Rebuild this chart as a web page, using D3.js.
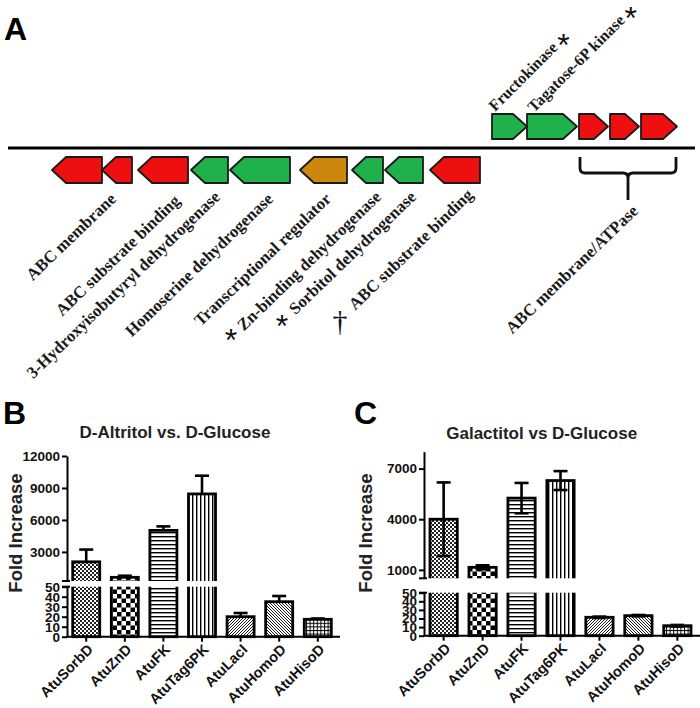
<!DOCTYPE html>
<html><head><meta charset="utf-8">
<script src="https://cdn.jsdelivr.net/npm/d3@7"></script>
<style>body{margin:0;background:#fff}svg{display:block}</style>
</head><body>
<svg id="c" width="700" height="708"></svg>
<script>
// ---------- Panel A data: gene map (positions in map units) ----------
const geneStart  = [52, 102, 138, 191, 230, 300, 352, 385, 430, 492, 527, 579, 610, 641];
const geneEnd    = [102, 132, 188, 228, 290, 347, 383, 423, 480, 527, 577, 608, 639, 677];
const geneStrand = [-1, -1, -1, -1, -1, -1, -1, -1, -1, 1, 1, 1, 1, 1];
const geneClass  = ["abc","abc","abc","dh","dh","reg","dh","dh","abc","kin","kin","abc","abc","abc"];
const bottomLabels = ["ABC membrane","ABC substrate binding","3-Hydroxyisobutyryl dehydrogenase",
  "Homoserine dehydrogenase","Transcriptional regulator","Zn-binding dehydrogenase",
  "Sorbitol dehydrogenase","ABC substrate binding","ABC membrane/ATPase"];
const bottomMarks = ["","","","","","*","*","\u2020",""];
const topLabels = ["Fructokinase","Tagatose-6P kinase"];

// ---------- Panels B & C data ----------
const categories = ["AtuSorbD","AtuZnD","AtuFK","AtuTag6PK","AtuLacI","AtuHomoD","AtuHisoD"];
const altritolMean = [2070, 615, 5020, 8440, 20, 35, 17.4];
const altritolErr  = [1150, 150, 375, 1710, 3.7, 5.7, 0.8];
const galactitolMean = [4000, 1150, 5250, 6290, 21.4, 23.3, 11.6];
const galactitolErr  = [2180, 120, 900, 560, 0.8, 0.8, 0.9];
const altritolTicks = [3000, 6000, 9000, 12000];
const galactitolTicks = [1000, 4000, 7000];
const lowerTicks = [0, 10, 20, 30, 40, 50];

const svg = d3.select("#c");
const SANS = "'Liberation Sans', Arial, sans-serif";
const SERIF = "'Liberation Serif', 'Times New Roman', serif";

// ---------- patterns ----------
const defs = svg.append("defs");
function pat(id, w, h, build) {
  const p = defs.append("pattern").attr("id", id).attr("patternUnits", "userSpaceOnUse")
    .attr("width", w).attr("height", h);
  p.append("rect").attr("width", w).attr("height", h).attr("fill", "#fff");
  build(p);
}
pat("p0", 4, 4, p => { p.append("rect").attr("width",2).attr("height",2).attr("fill","#222");
  p.append("rect").attr("x",2).attr("y",2).attr("width",2).attr("height",2).attr("fill","#222"); });
pat("p1", 9, 9, p => { p.append("rect").attr("width",4.5).attr("height",4.5).attr("fill","#000");
  p.append("rect").attr("x",4.5).attr("y",4.5).attr("width",4.5).attr("height",4.5).attr("fill","#000"); });
pat("p2", 4, 4, p => p.append("rect").attr("y",0).attr("width",4).attr("height",1.4).attr("fill","#000"));
pat("p3", 4, 4, p => p.append("rect").attr("x",0).attr("width",1.4).attr("height",4).attr("fill","#000"));
pat("p4", 3, 3, p => p.append("path").attr("d","M-1,1 L1,-1 M0,3 L3,0 M2,4 L4,2").attr("stroke","#000").attr("stroke-width",0.9));
pat("p5", 3, 3, p => p.append("path").attr("d","M-1,2 L1,4 M0,0 L3,3 M2,-1 L4,1").attr("stroke","#000").attr("stroke-width",0.9));
pat("p6", 3.6, 3.6, p => { p.append("rect").attr("width",3.6).attr("height",1).attr("fill","#000");
  p.append("rect").attr("width",1).attr("height",3.6).attr("fill","#000"); });

// ---------- Panel A ----------
const gx = d3.scaleLinear().domain([0, 700]).range([0, 700]);
const geneColor = d3.scaleOrdinal().domain(["abc","dh","reg","kin"]).range(["#ee1010","#20b24a","#cc880c","#20b24a"]);
svg.append("text").attr("x", 4).attr("y", 40).attr("font-family", SANS).attr("font-weight", "bold")
  .attr("font-size", 32).text("A");
svg.append("line").attr("x1", gx(8)).attr("x2", gx(695)).attr("y1", 148).attr("y2", 148)
  .attr("stroke", "#000").attr("stroke-width", 3);

const genes = geneStart.map((s, i) => ({ s, e: geneEnd[i], str: geneStrand[i], c: geneClass[i] }));
svg.append("g").selectAll("path").data(genes).join("path")
  .attr("d", d => {
    const x0 = gx(d.s), x1 = gx(d.e);
    const y0 = d.str > 0 ? 114 : 157, y1 = d.str > 0 ? 139 : 183, ym = (y0 + y1) / 2;
    const h = Math.min(14, (x1 - x0) * 0.5);
    return d.str > 0
      ? `M${x0},${y0}L${x1 - h},${y0}L${x1},${ym}L${x1 - h},${y1}L${x0},${y1}Z`
      : `M${x1},${y0}L${x0 + h},${y0}L${x0},${ym}L${x0 + h},${y1}L${x1},${y1}Z`;
  })
  .attr("fill", d => geneColor(d.c)).attr("stroke", "#1a1a1a").attr("stroke-width", 1.8)
  .attr("stroke-linejoin", "round");

// bracket under the ABC transporter operon
{
  const a = gx(geneStart[11]) + 1, b = gx(geneEnd[13]) - 1, m = (a + b) / 2;
  svg.append("path")
    .attr("d", `M${a},157 L${a},168 Q${a},173 ${a + 5},173 L${m - 5},173 Q${m},173 ${m},178 L${m},200 M${m},178 Q${m},173 ${m + 5},173 L${b - 5},173 Q${b},173 ${b},168 L${b},157`)
    .attr("fill", "none").attr("stroke", "#111").attr("stroke-width", 2.8);
}

// bottom labels (end anchored)
const botEnds = [[117,200],[181,202],[221,198],[274,200],[332,200],[382,198],[417,198],[474,196],[639,212]];
const markPos = [null,null,null,null,null,[231,333],[282,319],[340,322],null];
bottomLabels.forEach((t, i) => {
  const [x, y] = botEnds[i];
  svg.append("text").attr("transform", `translate(${gx(x)},${y}) rotate(-44)`)
    .attr("text-anchor", "end").attr("font-family", SERIF).attr("font-weight", "bold")
    .attr("font-size", 16.8).attr("fill", "#1a1a1a").text(t);
  if (bottomMarks[i]) {
    const [mx, my] = markPos[i];
    const dag = bottomMarks[i] === "\u2020";
    svg.append("text").attr("x", gx(mx)).attr("y", dag ? my + 9 : my + 18)
      .attr("text-anchor", "middle").attr("font-family", dag ? SERIF : SANS)
      .attr("font-size", dag ? 30 : 32).attr("fill", "#111").text(bottomMarks[i]);
  }
});
// top labels (start anchored), asterisk placed just past the end of each label
const topStarts = [[495,112],[534,113]];
const ang = -45, rad = ang * Math.PI / 180;
topLabels.forEach((t, i) => {
  const [x, y] = topStarts[i];
  const tx = svg.append("text").attr("transform", `translate(${gx(x)},${y}) rotate(${ang})`)
    .attr("font-family", SERIF).attr("font-weight", "bold").attr("font-size", 16)
    .attr("fill", "#1a1a1a").text(t);
  const len = tx.node().getComputedTextLength() + 11;
  const ux = Math.cos(rad), uy = Math.sin(rad);      // along baseline
  const px = Math.sin(rad), py = -Math.cos(rad);     // glyph "up"
  const cx = gx(x) + ux * len + px * 4, cy = y + uy * len + py * 4;
  svg.append("text").attr("x", cx).attr("y", Math.max(cy, 9) + 18)
    .attr("text-anchor", "middle").attr("font-family", SANS).attr("font-size", 32).attr("fill", "#111").text("*");
});

// ---------- Bar panels ----------
function barPanel(o) {
  const g = svg.append("g");
  const x = d3.scaleBand().domain(categories).range(o.xr).paddingInner(0.3).paddingOuter(o.po);
  const yU = d3.scaleLinear().domain(o.upD).range(o.upR);
  const yL = d3.scaleLinear().domain([0, 50]).range(o.loR);
  const yv = v => v > 50 ? yU(v) : yL(v);
  const ax = o.xr[0];

  g.append("text").attr("x", o.letter[0]).attr("y", o.letter[1]).attr("font-family", SANS)
    .attr("font-weight", "bold").attr("font-size", 32).text(o.letterText);
  g.append("text").attr("x", o.title[0]).attr("y", o.title[1]).attr("text-anchor", "middle")
    .attr("font-family", SANS).attr("font-weight", "bold").attr("font-size", 17).attr("fill", "#222").text(o.titleText);
  g.append("text").attr("transform", `translate(${o.ylab[0]},${o.ylab[1]}) rotate(-90)`).attr("text-anchor", "middle")
    .attr("font-family", SANS).attr("font-weight", "bold").attr("font-size", 18.5).attr("fill", "#222").text("Fold Increase");

  const data = categories.map((c, i) => ({ c, i, v: o.mean[i], e: o.err[i] }));
  g.append("g").selectAll("rect").data(data).join("rect")
    .attr("x", d => x(d.c)).attr("width", x.bandwidth())
    .attr("y", d => yv(d.v)).attr("height", d => yL(0) - yv(d.v))
    .attr("fill", d => `url(#p${d.i})`).attr("stroke", "#000").attr("stroke-width", 2.8);
  // axis break gap
  g.append("rect").attr("x", ax + 2).attr("width", o.xr[1] - ax).attr("y", o.upR[0])
    .attr("height", o.loR[1] - o.upR[0]).attr("fill", "#fff");
  // error bars
  const eb = g.append("g").attr("stroke", "#000").attr("stroke-width", 2.6).attr("fill", "none");
  data.forEach(d => {
    const cx = x(d.c) + x.bandwidth() / 2;
    const top = yv(d.v + d.e), bot = o.two ? yv(d.v - d.e) : yv(d.v);
    eb.append("line").attr("x1", cx).attr("x2", cx).attr("y1", top).attr("y2", bot);
    eb.append("line").attr("x1", cx - 7).attr("x2", cx + 7).attr("y1", top).attr("y2", top);
    if (o.two) eb.append("line").attr("x1", cx - 7).attr("x2", cx + 7).attr("y1", bot).attr("y2", bot);
  });

  const styleAxis = (sel, fs) => {
    sel.selectAll("path,line").attr("stroke", "#000").attr("stroke-width", 2);
    sel.selectAll("text").attr("font-family", SANS).attr("font-weight", "bold").attr("font-size", fs || 13.5).attr("fill", "#111");
  };
  g.append("g").attr("transform", `translate(${ax},0)`)
    .call(d3.axisLeft(yU).tickValues(o.ticks).tickFormat(d3.format("d")).tickSize(5).tickSizeOuter(0).tickPadding(2))
    .call(styleAxis);
  g.append("g").attr("transform", `translate(${ax},0)`)
    .call(d3.axisLeft(yL).tickValues(lowerTicks).tickFormat(d3.format("d")).tickSize(5).tickSizeOuter(0).tickPadding(2))
    .call(styleAxis);
  // break caps
  g.append("line").attr("x1", ax - 5).attr("x2", ax + 3).attr("y1", o.upR[0]).attr("y2", o.upR[0])
    .attr("stroke", "#000").attr("stroke-width", 2);
  g.append("line").attr("x1", ax - 5).attr("x2", ax + 3).attr("y1", o.loR[1]).attr("y2", o.loR[1])
    .attr("stroke", "#000").attr("stroke-width", 2);

  const xa = g.append("g").attr("transform", `translate(0,${yL(0)})`)
    .call(d3.axisBottom(x).tickSize(5).tickSizeOuter(0));
  xa.select(".domain").attr("d", `M${ax},0H${o.xr[1] + 3}`);
  styleAxis(xa, 14.5);
  xa.selectAll("text").attr("text-anchor", "end").attr("dy", null).attr("y", 0)
    .attr("transform", "translate(5,11) rotate(-45)").attr("dominant-baseline", "middle");
}

barPanel({ xr: [67, 337], po: 0.148, upD: [270, 12000], upR: [581, 456], loR: [636.7, 586.7],
  mean: altritolMean, err: altritolErr, two: false, ticks: altritolTicks,
  letter: [3, 424], letterText: "B", title: [175, 438], titleText: "D-Altritol vs. D-Glucose", ylab: [22, 533] });
barPanel({ xr: [424, 697], po: 0.154, upD: [500, 8000], upR: [578.3, 451.7], loR: [635.7, 592.7],
  mean: galactitolMean, err: galactitolErr, two: true, ticks: galactitolTicks,
  letter: [354, 424], letterText: "C", title: [541.7, 439], titleText: "Galactitol vs D-Glucose", ylab: [372, 533] });
</script>
</body></html>
